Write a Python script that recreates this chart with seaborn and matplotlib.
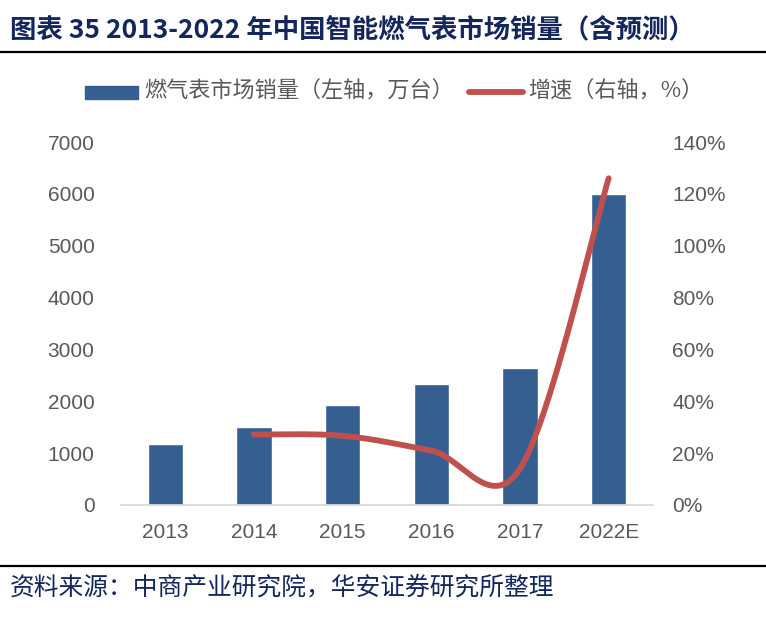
import numpy as np
import pandas as pd
import matplotlib
matplotlib.use("Agg")
import matplotlib.pyplot as plt
import seaborn as sns
from matplotlib.lines import Line2D
from matplotlib.patches import Rectangle

# data
years = ["2013", "2014", "2015", "2016", "2017", "2022E"]
sales = [1180, 1510, 1920, 2330, 2640, 6000]          # 万台, left axis
growth_years = ["2014", "2015", "2016", "2017", "2022E"]
growth = [27.2, 26.7, 21.0, 14.0, 126.0]              # %, right axis

left_ticks = [0, 1000, 2000, 3000, 4000, 5000, 6000, 7000]
right_ticks = [0, 20, 40, 60, 80, 100, 120, 140]

title = "图表 35 2013-2022 年中国智能燃气表市场销量（含预测）"
bar_label = "燃气表市场销量（左轴，万台）"
line_label = "增速（右轴，%）"
source = "资料来源：中商产业研究院，华安证券研究所整理"

BLUE = "#365F91"
RED = "#C0504D"
GREY = "#595959"
NAVY = "#14275C"
CJK = ["Noto Sans CJK SC", "DejaVu Sans"]
NUM = ["Liberation Sans", "DejaVu Sans"]

sns.set_theme(style="white")
plt.rcParams['font.family'] = NUM


def smooth(xs, ys, n=60):
    # excel-like smoothed line (bezier through the points)
    xs = np.asarray(xs, float)
    ys = np.asarray(ys, float)
    px = np.concatenate([[xs[0]], xs, [xs[-1]]])
    py = np.concatenate([[ys[0]], ys, [ys[-1]]])
    t = np.linspace(0, 1, n)[:, None]
    out = []
    for i in range(len(xs) - 1):
        p0 = np.array([px[i], py[i]])
        p1 = np.array([px[i + 1], py[i + 1]])
        p2 = np.array([px[i + 2], py[i + 2]])
        p3 = np.array([px[i + 3], py[i + 3]])
        c1 = p1 + (p2 - p0) / 6
        c2 = p2 - (p3 - p1) / 6
        seg = ((1 - t) ** 3) * p1 + 3 * ((1 - t) ** 2) * t * c1 + 3 * (1 - t) * t ** 2 * c2 + t ** 3 * p2
        out.append(seg)
    pts = np.vstack(out)
    return pts[:, 0], pts[:, 1]


df = pd.DataFrame({"year": years, "sales": sales})

fig = plt.figure(figsize=(7.66, 6.25), dpi=100)
ax = fig.add_axes([121 / 766, 120 / 625, 532 / 766, 363 / 625])

sns.barplot(data=df, x="year", y="sales", color=BLUE, saturation=1, width=0.4, ax=ax)
ax.set_xlim(-0.5, len(years) - 0.5)
ax.set_ylim(0, 7000)
ax.set_yticks(left_ticks)
ax.set_xlabel("")
ax.set_ylabel("")
for s in ["top", "right", "left"]:
    ax.spines[s].set_visible(False)
ax.spines["bottom"].set_color("#D9D9D9")
ax.spines["bottom"].set_linewidth(1.3)
ax.tick_params(axis="y", length=0, pad=19, labelsize=15, labelcolor=GREY)
ax.tick_params(axis="x", length=0, pad=13, labelsize=15, labelcolor=GREY)

ax2 = ax.twinx()
xpos = [years.index(y) for y in growth_years]
sx, sy = smooth(xpos, growth)
ax2.plot(sx, sy, color=RED, lw=4.2, solid_capstyle="round")
ax2.set_ylim(0, 140)
ax2.set_yticks(right_ticks)
ax2.set_yticklabels([f"{v}%" for v in right_ticks])
for s in ["top", "right", "left", "bottom"]:
    ax2.spines[s].set_visible(False)
ax2.tick_params(axis="y", length=0, pad=14, labelsize=15, labelcolor=GREY)
ax2.grid(False)
ax.grid(False)

# title and rules
fig.text(10 / 766, 1 - 30 / 625, title, fontsize=19, fontweight="bold",
         color=NAVY, family=CJK, va="center", ha="left")
fig.add_artist(Line2D([0, 1], [1 - 52 / 625] * 2, color="black", lw=1.6))
fig.add_artist(Line2D([0, 1], [1 - 566 / 625] * 2, color="black", lw=1.6))
fig.text(10 / 766, 1 - 588 / 625, source, fontsize=17.8, color=NAVY,
         family=CJK, va="center", ha="left")

# legend
ly = 1 - 92 / 625
fig.add_artist(Rectangle((85 / 766, 1 - 99 / 625), 53 / 766, 13 / 625,
                         color=BLUE, transform=fig.transFigure))
fig.text(144 / 766, ly, bar_label, fontsize=15.9, color=GREY, family=CJK, va="center")
fig.add_artist(Line2D([469 / 766, 523 / 766], [ly, ly], color=RED, lw=4.2,
                      solid_capstyle="round"))
fig.text(528 / 766, ly, line_label, fontsize=15.9, color=GREY, family=CJK, va="center")

fig.savefig("out.png", dpi=100)
